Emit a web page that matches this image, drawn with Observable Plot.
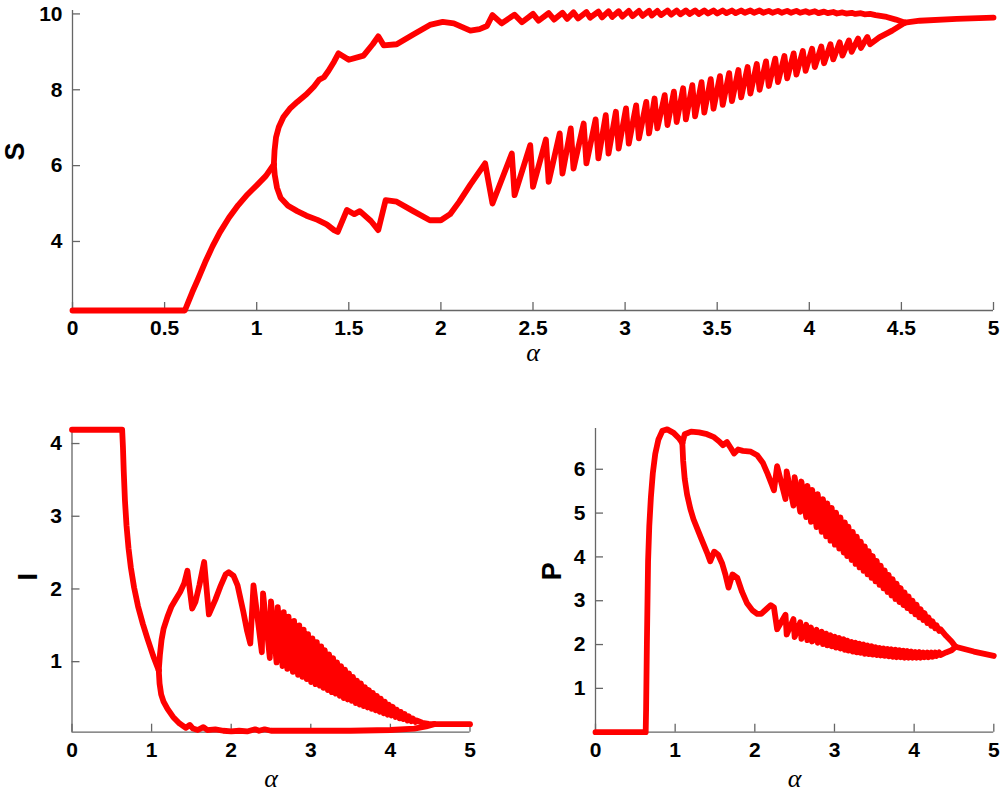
<!DOCTYPE html>
<html>
<head>
<meta charset="utf-8">
<script src="https://cdn.jsdelivr.net/npm/d3@7"></script>
<script src="https://cdn.jsdelivr.net/npm/@observablehq/plot@0.6"></script>
<style>
  html, body { margin: 0; padding: 0; background: #fff; }
  #wrap { position: relative; width: 1002px; height: 793px; overflow: hidden; }
  .panel { position: absolute; }
</style>
</head>
<body>
<div id="wrap">
  <div class="panel" id="pS" style="left:0;top:0"></div>
  <div class="panel" id="pI" style="left:0;top:410px"></div>
  <div class="panel" id="pP" style="left:500px;top:410px"></div>
</div>
<script>
// ---------- tick labels ----------
const topXTicks = [0, 0.5, 1, 1.5, 2, 2.5, 3, 3.5, 4, 4.5, 5];
const topYTicks = [4, 6, 8, 10];
const botXTicks = [0, 1, 2, 3, 4, 5];
const iYTicks = [1, 2, 3, 4];
const pYTicks = [1, 2, 3, 4, 5, 6];

// ---------- oscillation positions (alpha) ----------
const peakAlpha = [2.24, 2.385, 2.485, 2.57, 2.645, 2.705, 2.775, 2.84, 2.895, 2.95,
  3.005, 3.06, 3.115, 3.16, 3.215, 3.265, 3.315, 3.365, 3.415, 3.465,
  3.515, 3.565, 3.615, 3.665, 3.715, 3.765, 3.815, 3.865, 3.915, 3.965,
  4.015, 4.065, 4.115, 4.165, 4.215, 4.265, 4.315];
const dropAlpha = [2.28, 2.40, 2.50, 2.585, 2.66, 2.72, 2.79, 2.855, 2.91, 2.965,
  3.02, 3.075, 3.13, 3.175, 3.23, 3.28, 3.33, 3.38, 3.43, 3.48,
  3.53, 3.58, 3.63, 3.68, 3.73, 3.78, 3.83, 3.88, 3.93, 3.98,
  4.03, 4.08, 4.13, 4.18, 4.23, 4.28, 4.33];
const midAlpha = [2.33, 2.44, 2.53, 2.615, 2.685, 2.745, 2.81, 2.875, 2.93, 2.985,
  3.04, 3.095, 3.145, 3.195, 3.25, 3.30, 3.35, 3.40, 3.45, 3.50,
  3.55, 3.60, 3.65, 3.70, 3.75, 3.80, 3.85, 3.90, 3.95, 4.00,
  4.05, 4.10, 4.15, 4.20, 4.25, 4.30];

// ---------- S panel ----------
const sSteady = [[0,2.18],[0.61,2.18],[0.63,2.42],[0.65,2.66],[0.68,2.99],[0.72,3.45],[0.76,3.87],[0.80,4.24],[0.85,4.63],[0.90,4.96],[0.95,5.24],[1.0,5.48],[1.05,5.73],[1.093,6.03]];
const sUpperStart = [[1.093,6.03],[1.097,6.4],[1.105,6.75],[1.12,7.02],[1.145,7.28],[1.18,7.5],[1.22,7.68],[1.27,7.88],[1.31,8.08],[1.34,8.27],[1.365,8.33],[1.39,8.5],[1.42,8.74],[1.444,8.96],[1.50,8.79],[1.58,8.9],[1.63,9.2],[1.66,9.41],[1.69,9.17],[1.76,9.2],[1.85,9.46],[1.94,9.71],[2.01,9.79],[2.07,9.75],[2.16,9.56],[2.21,9.6],[2.25,9.68]];
const sUpperPeaks = [9.97, 9.98, 10.0, 10.02, 10.03, 10.04, 10.05, 10.06, 10.07, 10.07,
  10.08, 10.08, 10.08, 10.08, 10.09, 10.09, 10.09, 10.09, 10.09, 10.09,
  10.09, 10.09, 10.09, 10.09, 10.09, 10.08, 10.08, 10.08, 10.08, 10.07,
  10.07, 10.06, 10.05, 10.04, 10.03, 10.02, 10.0];
const sUpperDips = [9.75, 9.78, 9.82, 9.85, 9.87, 9.88, 9.90, 9.91, 9.92, 9.93,
  9.94, 9.95, 9.96, 9.97, 9.98, 9.99, 10.0, 10.0, 10.01, 10.01,
  10.02, 10.02, 10.03, 10.03, 10.03, 10.03, 10.03, 10.03, 10.03, 10.03,
  10.02, 10.02, 10.01, 10.01, 10.0, 9.99];
const sUpperEnd = [[4.36,9.97],[4.42,9.92],[4.47,9.85],[4.52,9.77]];
const sLowerStart = [[1.093,6.03],[1.098,5.75],[1.11,5.42],[1.13,5.15],[1.17,4.94],[1.22,4.8],[1.27,4.68],[1.33,4.57],[1.38,4.45],[1.42,4.3],[1.44,4.25],[1.49,4.83],[1.53,4.72],[1.56,4.8],[1.62,4.54],[1.66,4.3],[1.70,5.09],[1.76,5.05],[1.85,4.8],[1.94,4.56],[2.0,4.56],[2.05,4.72],[2.1,5.05],[2.16,5.5]];
const sLowerHigh = [6.06, 6.32, 6.54, 6.69, 6.85, 6.98, 7.11, 7.22, 7.33, 7.42,
  7.51, 7.59, 7.68, 7.77, 7.86, 7.95, 8.04, 8.12, 8.20, 8.28,
  8.36, 8.44, 8.52, 8.60, 8.68, 8.75, 8.82, 8.89, 8.96, 9.02,
  9.08, 9.14, 9.20, 9.25, 9.30, 9.35, 9.39];
const sLowerLow = [5.00, 5.22, 5.44, 5.57, 5.79, 5.92, 6.06, 6.19, 6.32, 6.45,
  6.58, 6.72, 6.85, 6.98, 7.07, 7.15, 7.22, 7.30, 7.40, 7.50,
  7.60, 7.70, 7.80, 7.90, 8.00, 8.10, 8.20, 8.30, 8.40, 8.50,
  8.60, 8.70, 8.80, 8.90, 9.00, 9.10, 9.20];
const sLowerEnd = [[4.38,9.38],[4.45,9.56],[4.52,9.77]];
const sMerged = [[4.52,9.77],[4.6,9.82],[4.8,9.87],[5.0,9.9]];

// ---------- I panel ----------
const iSteady = [[0,4.19],[0.63,4.19],[0.64,3.95],[0.65,3.62],[0.665,3.22],[0.685,2.87],[0.71,2.56],[0.74,2.29],[0.78,2.02],[0.83,1.76],[0.89,1.52],[0.95,1.31],[1.02,1.08],[1.09,0.88]];
const iUpperStart = [[1.09,0.88],[1.105,1.1],[1.125,1.3],[1.15,1.45],[1.2,1.62],[1.25,1.76],[1.3,1.85],[1.36,1.96],[1.41,2.08],[1.45,2.25],[1.51,1.73],[1.55,1.82],[1.6,2.05],[1.66,2.37],[1.72,1.65],[1.8,1.85],[1.87,2.05],[1.93,2.2],[1.97,2.23],[2.03,2.18],[2.08,2.05],[2.15,1.7],[2.2,1.42]];
const iUpperLow = [1.25, 1.13, 1.05, 0.99, 0.94, 0.90, 0.86, 0.82, 0.79, 0.76,
  0.72, 0.69, 0.67, 0.64, 0.61, 0.58, 0.56, 0.53, 0.50, 0.48,
  0.46, 0.43, 0.41, 0.39, 0.37, 0.35, 0.33, 0.31, 0.29, 0.27,
  0.26, 0.24, 0.22, 0.21, 0.19, 0.18, 0.17];
const iUpperHigh = [2.05, 1.94, 1.83, 1.75, 1.68, 1.62, 1.56, 1.50, 1.44, 1.38,
  1.32, 1.27, 1.21, 1.16, 1.10, 1.05, 0.99, 0.94, 0.89, 0.84,
  0.79, 0.74, 0.70, 0.65, 0.61, 0.57, 0.53, 0.49, 0.45, 0.41,
  0.38, 0.34, 0.31, 0.28, 0.25, 0.22, 0.19];
const iUpperEnd = [[4.40,0.16],[4.48,0.145],[4.55,0.14]];
const iLower = [[1.09,0.88],[1.1,0.7],[1.12,0.55],[1.15,0.45],[1.2,0.35],[1.27,0.24],[1.35,0.15],[1.43,0.09],[1.48,0.13],[1.52,0.08],[1.58,0.06],[1.65,0.1],[1.7,0.06],[1.8,0.07],[1.9,0.05],[2.0,0.04],[2.1,0.05],[2.2,0.04],[2.3,0.07],[2.35,0.05],[2.42,0.07],[2.5,0.05],[2.6,0.05],[3.0,0.05],[3.5,0.05],[4.0,0.06],[4.3,0.08],[4.45,0.11],[4.55,0.14]];
const iMerged = [[4.55,0.14],[5.0,0.14]];

// ---------- P panel ----------
const pSteady = [[0,0],[0.63,0],[0.635,0.5],[0.645,2.0],[0.66,3.9],[0.675,4.7],[0.695,5.35],[0.72,5.92],[0.75,6.35],[0.79,6.68],[0.84,6.88],[0.90,6.91],[0.98,6.83],[1.05,6.7],[1.09,6.6]];
const pUpperStart = [[1.09,6.6],[1.12,6.8],[1.2,6.86],[1.3,6.84],[1.4,6.8],[1.48,6.74],[1.55,6.64],[1.6,6.55],[1.65,6.62],[1.7,6.48],[1.74,6.36],[1.79,6.45],[1.85,6.42],[1.95,6.4],[2.03,6.32],[2.1,6.15],[2.16,5.9],[2.22,5.62]];
const pUpperLow = [5.52, 5.32, 5.17, 5.03, 4.91, 4.80, 4.68, 4.57, 4.47, 4.37,
  4.28, 4.19, 4.10, 4.02, 3.93, 3.84, 3.76, 3.68, 3.60, 3.52,
  3.44, 3.36, 3.28, 3.20, 3.12, 3.04, 2.97, 2.90, 2.83, 2.76,
  2.69, 2.62, 2.56, 2.49, 2.43, 2.37, 2.31];
const pUpperHigh = [6.07, 5.95, 5.82, 5.72, 5.62, 5.53, 5.43, 5.32, 5.22, 5.12,
  5.01, 4.90, 4.79, 4.69, 4.57, 4.46, 4.35, 4.24, 4.13, 4.02,
  3.91, 3.80, 3.69, 3.59, 3.49, 3.39, 3.29, 3.19, 3.10, 3.00,
  2.91, 2.81, 2.72, 2.62, 2.53, 2.44, 2.35];
const pUpperEnd = [[4.40,2.2],[4.47,2.07],[4.52,1.95]];
const pLowerStart = [[1.09,6.6],[1.1,6.2],[1.12,5.78],[1.15,5.42],[1.19,5.1],[1.23,4.86],[1.32,4.45],[1.40,4.1],[1.44,3.9],[1.49,4.12],[1.54,4.05],[1.59,3.85],[1.63,3.6],[1.67,3.3],[1.72,3.6],[1.78,3.52],[1.84,3.2],[1.9,2.95],[1.97,2.78],[2.03,2.7],[2.08,2.7],[2.14,2.8],[2.2,2.9]];
const pLowerHigh = [2.85, 2.68, 2.58, 2.51, 2.45, 2.39, 2.34, 2.29, 2.25, 2.21,
  2.18, 2.15, 2.12, 2.09, 2.06, 2.04, 2.02, 2.00, 1.98, 1.96,
  1.94, 1.92, 1.91, 1.90, 1.89, 1.88, 1.87, 1.86, 1.85, 1.84,
  1.83, 1.83, 1.82, 1.82, 1.82, 1.82, 1.82];
const pLowerLow = [2.35, 2.23, 2.17, 2.13, 2.10, 2.07, 2.04, 2.01, 1.98, 1.96,
  1.93, 1.91, 1.88, 1.86, 1.84, 1.82, 1.81, 1.79, 1.78, 1.77,
  1.76, 1.75, 1.74, 1.73, 1.72, 1.71, 1.71, 1.70, 1.70, 1.70,
  1.70, 1.70, 1.71, 1.71, 1.72, 1.74, 1.76];
const pLowerEnd = [[4.40,1.82],[4.47,1.87],[4.52,1.95]];
const pMerged = [[4.52,1.95],[4.75,1.84],[5.0,1.74]];

// ---------- table building ----------
function interleave(xa, va, xb, vb) {
  const out = [];
  const n = Math.max(xa.length, xb.length);
  for (let i = 0; i < n; i++) {
    if (i < xa.length) out.push([xa[i], va[i]]);
    if (i < xb.length) out.push([xb[i], vb[i]]);
  }
  return out;
}
function rows(name, ...parts) {
  return parts.flat().map(([a, v]) => ({a, v, s: name}));
}
const sData = [
  ...rows("steady", sSteady),
  ...rows("upper", sUpperStart, interleave(dropAlpha, sUpperPeaks, midAlpha, sUpperDips), sUpperEnd),
  ...rows("lower", sLowerStart, interleave(peakAlpha, sLowerHigh, dropAlpha, sLowerLow), sLowerEnd),
  ...rows("merged", sMerged)
];
const iData = [
  ...rows("steady", iSteady),
  ...rows("upper", iUpperStart, interleave(peakAlpha, iUpperLow, dropAlpha, iUpperHigh), iUpperEnd),
  ...rows("lower", iLower),
  ...rows("merged", iMerged)
];
const pData = [
  ...rows("steady", pSteady),
  ...rows("upper", pUpperStart, interleave(peakAlpha, pUpperLow, dropAlpha, pUpperHigh), pUpperEnd),
  ...rows("lower", pLowerStart, interleave(peakAlpha, pLowerHigh, dropAlpha, pLowerLow), pLowerEnd),
  ...rows("merged", pMerged)
];

const axisStyle = {tickSize: -8, tickPadding: 18, tickFormat: d => String(d), fontSize: 21,
  fontWeight: "bold", stroke: "#666", strokeWidth: 1.3, fill: "black", label: null};

function panel({data, width, height, ml, mr, mt, mb, yDomain, xTicks, yTicks, yLabel, yLabelDx, alphaDy}) {
  return Plot.plot({
    width, height,
    marginLeft: ml, marginRight: mr, marginTop: mt, marginBottom: mb,
    x: {domain: [0, 5]},
    y: {domain: yDomain},
    style: {fontFamily: "'Liberation Sans', Arial, Helvetica, sans-serif", background: "white", overflow: "visible"},
    marks: [
      Plot.ruleX([0], {stroke: "#666", strokeWidth: 1.3}),
      Plot.ruleY([yDomain[0]], {stroke: "#666", strokeWidth: 1.3}),
      Plot.axisX({...axisStyle, ticks: xTicks}),
      Plot.axisY({...axisStyle, ticks: yTicks}),
      Plot.line(data, {x: "a", y: "v", z: "s", stroke: "#ff0000", strokeWidth: 5.8,
        strokeLinejoin: "round", strokeLinecap: "round", curve: "linear"}),
      Plot.text(["α"], {text: d => d, frameAnchor: "bottom", dy: alphaDy, lineAnchor: "middle",
        fontSize: 26, fontStyle: "italic", fontFamily: "'Liberation Serif', 'DejaVu Serif', serif", fill: "black"}),
      Plot.text([yLabel], {text: d => d, frameAnchor: "left", dx: yLabelDx, rotate: -90, lineAnchor: "middle",
        fontSize: 27, fontWeight: "bold", fill: "black"})
    ]
  });
}

document.getElementById("pS").appendChild(panel({
  data: sData, width: 1002, height: 372, ml: 72, mr: 9, mt: 10, mb: 62,
  yDomain: [2.18, 10.09], xTicks: topXTicks, yTicks: topYTicks, yLabel: "S", yLabelDx: -57, alphaDy: 42
}));
document.getElementById("pI").appendChild(panel({
  data: iData, width: 500, height: 383, ml: 71.5, mr: 30.5, mt: 18.5, mb: 61.3,
  yDomain: [0.03, 4.2], xTicks: botXTicks, yTicks: iYTicks, yLabel: "I", yLabelDx: -44, alphaDy: 46
}));
document.getElementById("pP").appendChild(panel({
  data: pData, width: 502, height: 383, ml: 95, mr: 8.7, mt: 18, mb: 61.3,
  yDomain: [0, 6.93], xTicks: botXTicks, yTicks: pYTicks, yLabel: "P", yLabelDx: -43, alphaDy: 46
}));
</script>
</body>
</html>
